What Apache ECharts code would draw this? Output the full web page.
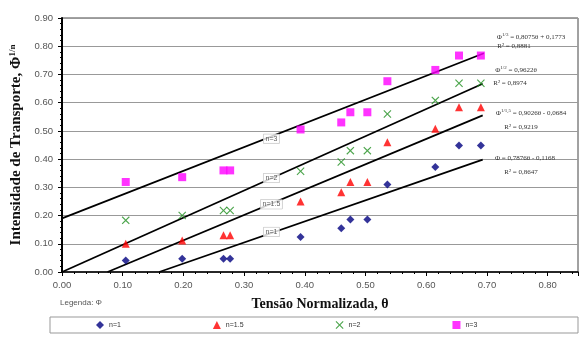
<!DOCTYPE html>
<html>
<head>
<meta charset="utf-8">
<script src="https://cdn.jsdelivr.net/npm/echarts@6/dist/echarts.min.js"></script>
<style>
  html, body { margin: 0; padding: 0; background: #fff; }
  #chart { width: 584px; height: 343px; }
</style>
</head>
<body>
<div id="chart"></div>
<script>
// normalised tension (theta), shared by all four exponents
const thetaVals = [0.105, 0.198, 0.266, 0.277, 0.393, 0.46, 0.475, 0.503, 0.536, 0.615, 0.654, 0.69]

// transport intensity Phi^(1/n) for each n
const phiN1 = [0.041, 0.047, 0.047, 0.047, 0.124, 0.155, 0.186, 0.186, 0.31, 0.372, 0.448, 0.448]
const phiN15 = [0.10, 0.112, 0.13, 0.13, 0.25, 0.283, 0.319, 0.319, 0.46, 0.508, 0.584, 0.584]
const phiN2 = [0.183, 0.20, 0.218, 0.218, 0.357, 0.39, 0.43, 0.43, 0.56, 0.608, 0.669, 0.669]
const phiN3 = [0.319, 0.336, 0.36, 0.36, 0.505, 0.53, 0.566, 0.566, 0.676, 0.716, 0.767, 0.767]

// trend lines, end points
const fitN1 = [[0.16, 0], [0.693, 0.398]]
const fitN15 = [[0.075, 0], [0.693, 0.555]]
const fitN2 = [[0, 0], [0.693, 0.667]]
const fitN3 = [[0, 0.19], [0.695, 0.775]]

// in-plot tags on the trend lines
const lineTags = [
  ['n=3', 0.345, 0.472],
  ['n=2', 0.345, 0.333],
  ['n=1.5', 0.345, 0.24],
  ['n=1', 0.345, 0.142],
]

const legendNames = ['n=1', 'n=1.5', 'n=2', 'n=3']
const xTicks = { min: 0, max: 0.85, step: 0.1 }
const yTicks = { min: 0, max: 0.9, step: 0.1 }

const zip = (xs, ys) => xs.map((x, i) => [x, ys[i]])
const crossPath = 'path://M0,1L1,0L5,4L9,0L10,1L6,5L10,9L9,10L5,6L1,10L0,9L4,5Z'

const serif = 'Liberation Serif'
const sans = 'Liberation Sans'

function fitLine(data) {
  return {
    type: 'line',
    data,
    symbol: 'none',
    silent: true,
    lineStyle: { color: '#000', width: 1.8 },
    z: 3,
  }
}

function eqText(x, y, parts) {
  return {
    type: 'text',
    x, y,
    style: {
      text: parts,
      align: 'center',
      verticalAlign: 'middle',
      fontFamily: serif,
      fontSize: 7,
      fill: '#333',
      rich: {
        s: { fontSize: 5, verticalAlign: 'top', fontFamily: serif, fill: '#333', padding: [0, 0, 4, 0] },
      },
    },
    z: 10,
  }
}

const chart = echarts.init(document.getElementById('chart'), null, { renderer: 'canvas' })

chart.setOption({
  backgroundColor: '#fff',
  animation: false,
  grid: {
    left: 62, top: 18, right: 6, bottom: 71,
    outerBoundsMode: 'none',
    containLabel: false,
    show: true, borderColor: '#444', borderWidth: 1, backgroundColor: 'transparent',
  },
  xAxis: {
    type: 'value',
    min: xTicks.min, max: xTicks.max, interval: xTicks.step,
    name: 'Tensão Normalizada, θ',
    nameLocation: 'middle',
    nameGap: 25,
    nameTextStyle: { fontFamily: serif, fontWeight: 'bold', fontSize: 14, color: '#111' },
    axisLine: { lineStyle: { color: '#000', width: 1.5 } },
    axisTick: { show: true, length: 4, lineStyle: { color: '#000' } },
    minorTick: { show: true, splitNumber: 5, length: 2, lineStyle: { color: '#000' } },
    splitLine: { show: false },
    axisLabel: {
      showMaxLabel: false, margin: 8,
      fontFamily: sans, fontSize: 9.5, color: '#555',
      formatter: v => v.toFixed(2),
    },
  },
  yAxis: {
    type: 'value',
    min: yTicks.min, max: yTicks.max, interval: yTicks.step,
    name: '{t|Intensidade de Transporte, Φ}{s|1/n}',
    nameLocation: 'middle',
    nameGap: 36,
    nameTextStyle: {
      rich: {
        t: { fontFamily: serif, fontWeight: 'bold', fontSize: 15, color: '#111' },
        s: { fontFamily: serif, fontWeight: 'bold', fontSize: 9, color: '#111', verticalAlign: 'top', padding: [0, 0, 7, 0] },
      },
    },
    axisLine: { lineStyle: { color: '#000', width: 2 } },
    axisTick: { show: true, length: 4, lineStyle: { color: '#000' } },
    minorTick: { show: true, splitNumber: 5, length: 2, lineStyle: { color: '#000' } },
    splitLine: { show: true, lineStyle: { color: '#999', width: 1 } },
    axisLabel: {
      margin: 9, fontFamily: sans, fontSize: 9.5, color: '#555',
      formatter: v => v.toFixed(2),
    },
  },
  legend: {
    data: legendNames,
    left: 96, top: 321,
    itemWidth: 8, itemHeight: 8, itemGap: 92,
    textStyle: { fontFamily: sans, fontSize: 7, color: '#333' },
    padding: 0,
  },
  graphic: [
    { type: 'rect', shape: { x: 50, y: 317, width: 528, height: 16 },
      style: { fill: '#fff', stroke: '#999', lineWidth: 1 }, z: -1 },
    { type: 'text', x: 60, y: 303,
      style: { text: 'Legenda: Φ', fontFamily: sans, fontSize: 8, fill: '#555', verticalAlign: 'middle' } },
    eqText(531, 37, 'Φ{s|1/3} = 0,8075θ + 0,1773'),
    eqText(514, 46, 'R² = 0,8881'),
    eqText(516, 70, 'Φ{s|1/2} = 0,9622θ'),
    eqText(510, 83, 'R² = 0,8974'),
    eqText(531, 113, 'Φ{s|1/1,5} = 0,9026θ - 0,0684'),
    eqText(521, 127, 'R² = 0,9219'),
    eqText(525, 158, 'Φ = 0,7876θ - 0,1168'),
    eqText(521, 172, 'R² = 0,8647'),
  ],
  series: [
    { name: 'n=1', type: 'scatter', data: zip(thetaVals, phiN1),
      symbol: 'diamond', symbolSize: 8, itemStyle: { color: '#000080' }, z: 4 },
    { name: 'n=1.5', type: 'scatter', data: zip(thetaVals, phiN15),
      symbol: 'triangle', symbolSize: 8, itemStyle: { color: '#ff0000' }, z: 4 },
    { name: 'n=2', type: 'scatter', data: zip(thetaVals, phiN2),
      symbol: crossPath, symbolSize: 8, itemStyle: { color: '#1f8f1f' }, z: 4 },
    { name: 'n=3', type: 'scatter', data: zip(thetaVals, phiN3),
      symbol: 'rect', symbolSize: 8, itemStyle: { color: '#ff00ff' }, z: 4 },
    fitLine(fitN1),
    fitLine(fitN15),
    fitLine(fitN2),
    fitLine(fitN3),
    {
      type: 'scatter',
      silent: true,
      symbolSize: 0,
      z: 6,
      data: lineTags.map(([txt, x, y]) => ({ value: [x, y], name: txt })),
      label: {
        show: true, position: 'inside',
        formatter: p => p.name,
        fontFamily: sans, fontSize: 7, color: '#333',
        backgroundColor: '#fff', borderColor: '#aaa', borderWidth: 0.5,
        padding: [1, 2],
      },
    },
  ],
})
</script>
</body>
</html>
